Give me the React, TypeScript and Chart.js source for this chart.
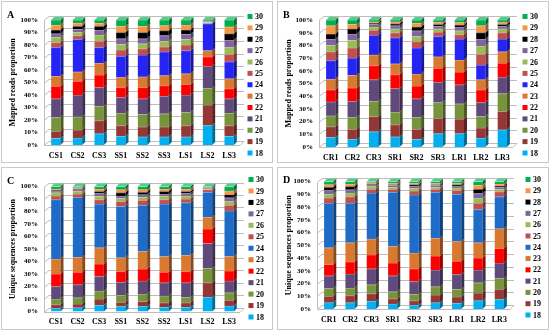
import React, { useEffect, useRef } from 'react';
import { Chart, registerables } from 'chart.js';
Chart.register(...registerables);

// ---------- DATA ----------
const seriesNames = ['18', '19', '20', '21', '22', '23', '24', '25', '26', '27', '28', '29', '30'];

const catsA = ['CS1', 'CS2', 'CS3', 'SS1', 'SS2', 'SS3', 'LS1', 'LS2', 'LS3'];
const catsB = ['CR1', 'CR2', 'CR3', 'SR1', 'SR2', 'SR3', 'LR1', 'LR2', 'LR3'];
const catsC = ['CS1', 'CS2', 'CS3', 'SS1', 'SS2', 'SS2', 'LS1', 'LS2', 'LS3'];
const catsD = ['CR1', 'CR2', 'CR3', 'SR1', 'SR2', 'SR3', 'LR1', 'LR2', 'LR3'];

const yTickValues = [0, 10, 20, 30, 40, 50, 60, 70, 80, 90, 100];

// Panel A: mapped reads proportion (%), one row per length 18..30
const valuesA: number[][] = [
  [5.3, 5.6, 9, 7, 6.5, 6.5, 6.5, 15.5, 7],
  [5.7, 6.4, 10.5, 8.5, 8, 8, 9, 16.5, 8.5],
  [11, 10.5, 11.5, 10, 10, 10.5, 10.5, 13.5, 10],
  [15, 17.5, 15, 12.5, 12.5, 14, 14, 17.5, 11.5],
  [10, 11, 10, 8, 9, 8.5, 8.5, 7.5, 8],
  [8, 7.5, 9.5, 8, 8.5, 8, 8.5, 5, 8],
  [23, 26, 12.5, 17, 17.5, 19, 18.5, 21.5, 13.5],
  [4, 3, 5, 5, 5, 4, 4.5, 0.5, 6],
  [4, 2.5, 5, 4.5, 4, 4.5, 4.5, 0.5, 5.5],
  [3, 2.5, 4, 4.5, 4, 4.5, 4, 0.5, 6],
  [3, 2.5, 3, 5, 5, 4, 3.5, 0.3, 5],
  [4, 2.5, 2.5, 5, 5, 4, 4, 0.4, 5.5],
  [4, 2.5, 2.5, 5, 5, 4.5, 4, 0.8, 5.5],
];

// Panel B: mapped reads proportion (%)
const valuesB: number[][] = [
  [7.5, 6, 12, 8, 6, 10.5, 10.5, 7, 13.5],
  [8.5, 8, 12, 9.5, 8, 12, 11.5, 8, 14.5],
  [8.5, 9.5, 12, 10, 9.5, 12.5, 12, 9, 14],
  [11, 12.5, 17, 18.5, 14.5, 16, 15, 11, 13],
  [9.5, 10.5, 11, 11, 10, 11, 10, 10, 11],
  [8.5, 10, 8.5, 8.5, 9.5, 9, 9.5, 8, 9],
  [14.5, 13.5, 15.5, 20.5, 20.5, 16, 16.5, 11.5, 10],
  [7, 8, 4, 4, 5, 3.5, 3.5, 8.5, 5],
  [5, 6, 2.5, 3, 4, 2.5, 3, 6.5, 3],
  [5, 5, 2, 2.5, 4.5, 2, 3, 5.5, 2],
  [4, 4, 1, 1.5, 3, 1.5, 1.5, 5, 1.5],
  [6.5, 3.5, 1, 1.5, 3, 1.5, 2, 5.5, 1.5],
  [4.5, 3.5, 1.5, 1.5, 2.5, 2, 2, 4.5, 2],
];

// Panel C: unique sequences proportion (%)
const valuesC: number[][] = [
  [2.5, 3, 5, 4, 4, 3.5, 3.5, 11.5, 4.5],
  [3, 3, 5, 3.5, 4, 3.5, 3.5, 11.5, 4.5],
  [4.5, 5, 6.5, 5.5, 6, 5.5, 4.5, 11.5, 6],
  [10, 10.5, 11.5, 10.5, 10.5, 10.5, 11.5, 20, 9.5],
  [10, 10, 10, 8.5, 9.5, 8.5, 9, 11.5, 8],
  [12, 12, 13, 11, 14, 12.5, 13, 9.5, 11.5],
  [47.5, 48, 35, 41, 37, 42, 42, 20, 36.5],
  [3, 2.5, 3.5, 4, 4, 3.5, 3, 2, 4.5],
  [2.5, 2, 2.5, 2.5, 2.5, 2.5, 2.5, 0.5, 3],
  [1.5, 1.5, 2.5, 2, 2, 2, 2, 0.5, 3],
  [0.5, 0.5, 1.5, 2.5, 2, 2, 1.5, 0.5, 2.5],
  [1, 1, 2, 2.5, 2, 2, 2, 0.5, 3],
  [2, 1, 2, 2.5, 2.5, 2, 2, 0.5, 3.5],
];

// Panel D: unique sequences proportion (%)
const valuesD: number[][] = [
  [5, 5, 6, 4, 3, 5, 4.5, 6.5, 7.5],
  [5, 5.5, 6, 4, 3.5, 6, 5, 6, 8],
  [6, 6, 7, 5.5, 5, 6.5, 6, 8, 8.5],
  [10, 11, 12.5, 12.5, 10, 13, 11.5, 10, 12],
  [9, 9.5, 11, 10, 10, 11, 10.5, 9.5, 11.5],
  [13, 15, 12.5, 13, 12.5, 14, 15.5, 12, 15.5],
  [35, 31, 36, 42.5, 45.5, 36, 37, 26, 25],
  [4, 5, 3, 2.5, 3, 2.5, 3, 5, 4],
  [3, 3, 2, 1.5, 2, 1.5, 2, 4, 2],
  [3, 2.5, 1.5, 1.5, 2, 1.5, 1.5, 3.5, 1.5],
  [2.5, 2.5, 0.5, 0.5, 1, 0.5, 1, 3.5, 1],
  [2, 2, 1, 1, 1, 1, 1, 3, 1.5],
  [2.5, 2, 1, 1.5, 1.5, 1.5, 1.5, 3, 2],
];

// ---------- STYLE ----------
const colorsAB = ['#00B0F0', '#953735', '#77933C', '#604A7B', '#FF0000', '#D8792F', '#2424F5', '#C0504D', '#9BBB59', '#8064A2', '#000000', '#F79646', '#00B050'];
const colorsCD = ['#00B0F0', '#953735', '#77933C', '#604A7B', '#FF0000', '#D8792F', '#1E6CC8', '#C0504D', '#9BBB59', '#8064A2', '#000000', '#F79646', '#00B050'];

const FONT = "'Liberation Serif', 'Times New Roman', serif";

function shade(hex: string, f: number): string {
  const n = parseInt(hex.slice(1), 16);
  let r = (n >> 16) & 255, g = (n >> 8) & 255, b = n & 255;
  if (f < 1) { r *= f; g *= f; b *= f; }
  else { const t = f - 1; r += (255 - r) * t; g += (255 - g) * t; b += (255 - b) * t; }
  return `rgb(${Math.round(r)},${Math.round(g)},${Math.round(b)})`;
}

type PanelCfg = {
  letter: string; left: number; top: number; w: number; h: number;
  cats: string[]; values: number[][]; colors: string[]; yTitle: string;
  pTop: number; pRight: number; yW: number; xH: number;
  legX: number; legTop: number; legBottom: number; letterY: number;
};

const panels: PanelCfg[] = [
  { letter: 'A', left: 1, top: 1, w: 270, h: 160, cats: catsA, values: valuesA, colors: colorsAB, yTitle: 'Mapped reads proportion',
    pTop: 18, pRight: 32, yW: 43, xH: 17, legX: 248, legTop: 14.5, legBottom: 151, letterY: 16 },
  { letter: 'B', left: 277, top: 1, w: 270, h: 160, cats: catsB, values: valuesB, colors: colorsAB, yTitle: 'Mapped reads proportion',
    pTop: 18, pRight: 35, yW: 42, xH: 15, legX: 247, legTop: 14.5, legBottom: 151, letterY: 16 },
  { letter: 'C', left: 1, top: 167, w: 270, h: 161, cats: catsC, values: valuesC, colors: colorsCD, yTitle: 'Unique sequences proportion',
    pTop: 18.5, pRight: 32, yW: 43, xH: 17.5, legX: 249, legTop: 11.5, legBottom: 149, letterY: 16 },
  { letter: 'D', left: 277, top: 167, w: 270, h: 161, cats: catsD, values: valuesD, colors: colorsCD, yTitle: 'Unique sequences proportion',
    pTop: 13.5, pRight: 38, yW: 40, xH: 20, legX: 250, legTop: 11.5, legBottom: 147, letterY: 15 },
];

const DX = 3, DY = 3;

function makeDeco(cfg: PanelCfg) {
  return {
    id: 'deco' + cfg.letter,
    beforeDatasetsDraw(chart: any) {
      const { ctx, chartArea } = chart;
      const { left, right, bottom } = chartArea;
      const y = chart.scales.y;
      ctx.save();
      ctx.strokeStyle = '#BDBDBD';
      ctx.lineWidth = 1;
      for (const v of yTickValues) {
        const py = Math.round(y.getPixelForValue(v)) + 0.5;
        ctx.beginPath();
        ctx.moveTo(left - 1, py);
        ctx.lineTo(left + DX + 1, py - DY - 1);
        ctx.lineTo(right + DX + 1, py - DY - 1);
        ctx.stroke();
      }
      const top100 = Math.round(y.getPixelForValue(100)) + 0.5;
      const b = Math.round(bottom) + 0.5;
      ctx.beginPath();
      ctx.moveTo(left - 0.5, top100);
      ctx.lineTo(left - 0.5, b);
      ctx.lineTo(right, b);
      ctx.lineTo(right + DX + 1, b - DY - 1);
      ctx.stroke();
      ctx.restore();
    },
    afterDatasetsDraw(chart: any) {
      const { ctx } = chart;
      ctx.save();
      const n = chart.data.datasets.length;
      for (let d = 0; d < n; d++) {
        const meta = chart.getDatasetMeta(d);
        const col = cfg.colors[d];
        meta.data.forEach((bar: any) => {
          const { x, y, base, width } = bar.getProps(['x', 'y', 'base', 'width'], true);
          const xr = x + width / 2;
          ctx.fillStyle = shade(col, 0.62);
          ctx.beginPath();
          ctx.moveTo(xr, y);
          ctx.lineTo(xr + DX, y - DY);
          ctx.lineTo(xr + DX, base - DY);
          ctx.lineTo(xr, base);
          ctx.closePath();
          ctx.fill();
          ctx.fillStyle = 'rgba(255,255,255,0.35)';
          ctx.fillRect(x - width / 2, y, width, 0.6);
          if (d === n - 1) {
            ctx.fillStyle = shade(col, 1.35);
            ctx.beginPath();
            ctx.moveTo(x - width / 2, y);
            ctx.lineTo(x - width / 2 + DX, y - DY);
            ctx.lineTo(xr + DX, y - DY);
            ctx.lineTo(xr, y);
            ctx.closePath();
            ctx.fill();
          }
        });
      }
      ctx.restore();
    },
    afterDraw(chart: any) {
      const { ctx } = chart;
      ctx.save();
      ctx.fillStyle = '#000';
      ctx.font = `bold 10px ${FONT}`;
      ctx.textBaseline = 'alphabetic';
      ctx.textAlign = 'left';
      ctx.fillText(cfg.letter, 5, cfg.letterY);
      const n = seriesNames.length;
      const step = (cfg.legBottom - cfg.legTop) / (n - 1);
      ctx.font = `bold 8px ${FONT}`;
      ctx.textBaseline = 'middle';
      for (let i = n - 1; i >= 0; i--) {
        const r = n - 1 - i;
        const yy = cfg.legTop + r * step;
        ctx.fillStyle = cfg.colors[i];
        ctx.fillRect(cfg.legX - 2.5, yy - 2.5, 5, 5);
        ctx.fillStyle = '#000';
        ctx.fillText(seriesNames[i], cfg.legX + 5, yy + 0.5);
      }
      ctx.restore();
    },
  };
}

function Panel({ cfg }: { cfg: PanelCfg }) {
  const ref = useRef<HTMLCanvasElement>(null);
  useEffect(() => {
    const chart = new Chart(ref.current as HTMLCanvasElement, {
      type: 'bar',
      data: {
        labels: cfg.cats,
        datasets: seriesNames.map((name, i) => ({
          label: name,
          data: cfg.values[i],
          backgroundColor: cfg.colors[i],
          borderWidth: 0,
          barPercentage: 0.43,
          categoryPercentage: 1,
        })),
      },
      options: {
        responsive: false,
        animation: false,
        events: [],
        layout: { padding: { left: 0, top: cfg.pTop, right: cfg.pRight, bottom: 0 } },
        plugins: { legend: { display: false }, tooltip: { enabled: false } },
        scales: {
          x: {
            stacked: true,
            grid: { display: false, drawTicks: false },
            border: { display: false },
            ticks: { color: '#000', font: { family: FONT, weight: 'bold', size: 8 }, padding: 6, maxRotation: 0, autoSkip: false },
            afterFit: (s: any) => { s.height = cfg.xH; },
          },
          y: {
            stacked: true,
            min: 0,
            max: 100,
            afterBuildTicks: (s: any) => { s.ticks = yTickValues.map((v) => ({ value: v })); },
            ticks: { color: '#000', font: { family: FONT, weight: 'bold', size: 7 }, padding: 7, callback: (v: any) => v + '%' },
            grid: { display: false, drawTicks: false },
            border: { display: false },
            title: { display: true, text: cfg.yTitle, color: '#000', font: { family: FONT, weight: 'bold', size: 8 }, padding: { top: 6, bottom: 0 } },
            afterFit: (s: any) => { s.width = cfg.yW; },
          },
        },
      } as any,
      plugins: [makeDeco(cfg)],
    });
    return () => chart.destroy();
  }, []);
  return (
    <div style={{ position: 'absolute', left: cfg.left, top: cfg.top, width: cfg.w, height: cfg.h, border: '1px solid #C9C9C9', background: '#fff' }}>
      <canvas ref={ref} width={cfg.w} height={cfg.h} style={{ display: 'block', width: cfg.w, height: cfg.h }} />
    </div>
  );
}

export default function App() {
  return (
    <div style={{ position: 'fixed', left: 0, top: 0, width: 550, height: 332, background: '#fff', overflow: 'hidden' }}>
      {panels.map((p) => <Panel key={p.letter} cfg={p} />)}
    </div>
  );
}
